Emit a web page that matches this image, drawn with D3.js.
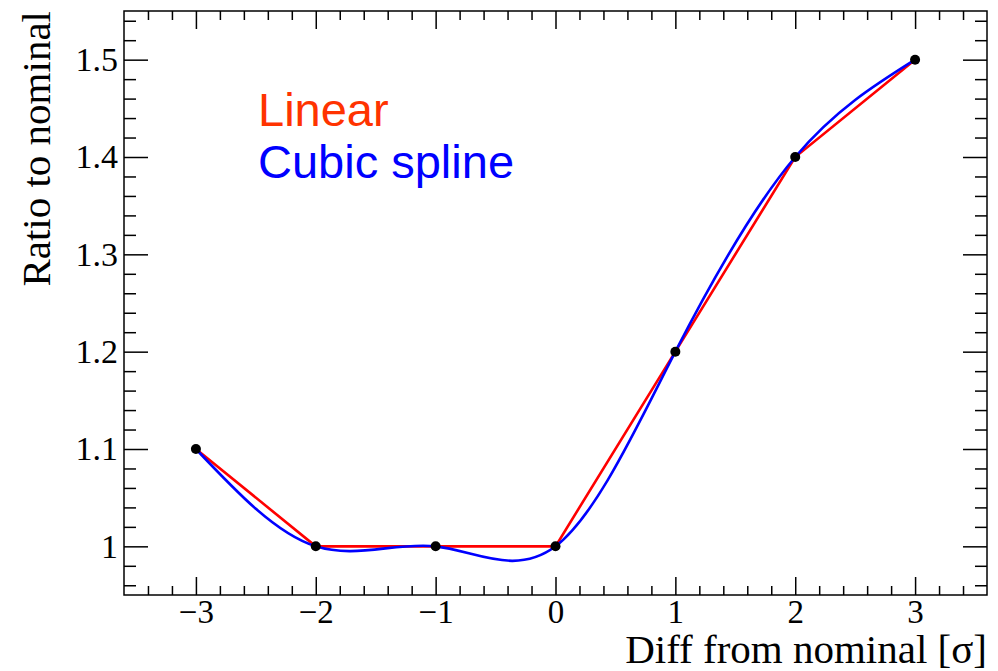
<!DOCTYPE html>
<html>
<head>
<meta charset="utf-8">
<script src="https://cdn.jsdelivr.net/npm/d3@7"></script>
<style>
	body { margin: 0; background: #fff; }
	svg text { font-family: "Liberation Serif", "Times New Roman", serif; fill: #000; }
	.axis path { display: none; }
	.axis line { stroke: #000; stroke-width: 1.5; }
	.legend text { font-family: "Liberation Sans", Arial, sans-serif; }
</style>
</head>
<body>
<script>
// knots of the interpolation
const sigma = [-3, -2, -1, 0, 1, 2, 3];
const ratio = [1.1, 1.0, 1.0, 1.0, 1.2, 1.4, 1.5];

// tick labels
const xTicks = [-3, -2, -1, 0, 1, 2, 3];
const yTicks = [1, 1.1, 1.2, 1.3, 1.4, 1.5];
const xMinor = [-3.4, -3.2, -2.8, -2.6, -2.4, -2.2, -1.8, -1.6, -1.4, -1.2, -0.8, -0.6, -0.4, -0.2,
	0.2, 0.4, 0.6, 0.8, 1.2, 1.4, 1.6, 1.8, 2.2, 2.4, 2.6, 2.8, 3.2, 3.4];
const yMinor = [0.96, 0.98, 1.02, 1.04, 1.06, 1.08, 1.12, 1.14, 1.16, 1.18, 1.22, 1.24, 1.26, 1.28,
	1.32, 1.34, 1.36, 1.38, 1.42, 1.44, 1.46, 1.48, 1.52, 1.54];

const legend = [
	{ label: "Linear", color: "#ff3300" },
	{ label: "Cubic spline", color: "#0000ff" },
];

const width = 998, height = 671;
const margin = { top: 11, right: 11, bottom: 76, left: 124 };
const innerW = width - margin.left - margin.right;
const innerH = height - margin.top - margin.bottom;

const x = d3.scaleLinear().domain([-3.6, 3.6]).range([0, innerW]);
const y = d3.scaleLinear().domain([0.95, 1.55]).range([innerH, 0]);

const svg = d3.select("body").append("svg")
	.attr("width", width)
	.attr("height", height);

const g = svg.append("g")
	.attr("transform", `translate(${margin.left}, ${margin.top})`);

// ticks pointing inwards on all four sides, ROOT style
const xMajor = 18, xMin = 9, yMajor = 24, yMin = 12;

g.append("g").attr("class", "axis")
	.attr("transform", `translate(0, ${innerH})`)
	.call(d3.axisBottom(x).tickValues(xTicks).tickSize(-xMajor).tickPadding(5).tickFormat(d3.format("")))
	.selectAll("text").style("font-size", "33px");
g.append("g").attr("class", "axis")
	.attr("transform", `translate(0, ${innerH})`)
	.call(d3.axisBottom(x).tickValues(xMinor).tickSize(-xMin).tickFormat(""));
g.append("g").attr("class", "axis")
	.call(d3.axisTop(x).tickValues(xTicks).tickSize(-xMajor).tickFormat(""));
g.append("g").attr("class", "axis")
	.call(d3.axisTop(x).tickValues(xMinor).tickSize(-xMin).tickFormat(""));

g.append("g").attr("class", "axis")
	.call(d3.axisLeft(y).tickValues(yTicks).tickSize(-yMajor).tickPadding(6).tickFormat(d => String(d)))
	.selectAll("text").style("font-size", "34px");
g.append("g").attr("class", "axis")
	.call(d3.axisLeft(y).tickValues(yMinor).tickSize(-yMin).tickFormat(""));
g.append("g").attr("class", "axis")
	.attr("transform", `translate(${innerW}, 0)`)
	.call(d3.axisRight(y).tickValues(yTicks).tickSize(-yMajor).tickFormat(""));
g.append("g").attr("class", "axis")
	.attr("transform", `translate(${innerW}, 0)`)
	.call(d3.axisRight(y).tickValues(yMinor).tickSize(-yMin).tickFormat(""));

// frame
g.append("rect")
	.attr("width", innerW)
	.attr("height", innerH)
	.attr("fill", "none")
	.attr("stroke", "#000")
	.attr("stroke-width", 1.5);

const points = sigma.map((s, i) => [s, ratio[i]]);

const linear = d3.line()
	.x(d => x(d[0]))
	.y(d => y(d[1]));
const spline = d3.line()
	.curve(d3.curveNatural)
	.x(d => x(d[0]))
	.y(d => y(d[1]));

g.append("path")
	.attr("d", linear(points))
	.attr("fill", "none")
	.attr("stroke", "#ff0000")
	.attr("stroke-width", 2.6);
g.append("path")
	.attr("d", spline(points))
	.attr("fill", "none")
	.attr("stroke", "#0000ff")
	.attr("stroke-width", 2.6);

g.append("g")
	.selectAll("circle")
	.data(points)
	.enter()
	.append("circle")
		.attr("cx", d => x(d[0]))
		.attr("cy", d => y(d[1]))
		.attr("r", 5)
		.attr("fill", "#000");

// legend text
svg.append("g")
	.attr("class", "legend")
	.selectAll("text")
	.data(legend)
	.enter()
	.append("text")
		.attr("x", 258)
		.attr("y", (d, i) => 126 + i * 52)
		.style("font-size", "47px")
		.style("fill", d => d.color)
		.text(d => d.label);

// axis titles
svg.append("text")
	.attr("x", width - margin.right)
	.attr("y", 663)
	.attr("text-anchor", "end")
	.style("font-size", "41px")
	.text("Diff from nominal [σ]");
svg.append("text")
	.attr("transform", `translate(50, ${margin.top}) rotate(-90)`)
	.attr("text-anchor", "end")
	.style("font-size", "41px")
	.text("Ratio to nominal");
</script>
</body>
</html>
